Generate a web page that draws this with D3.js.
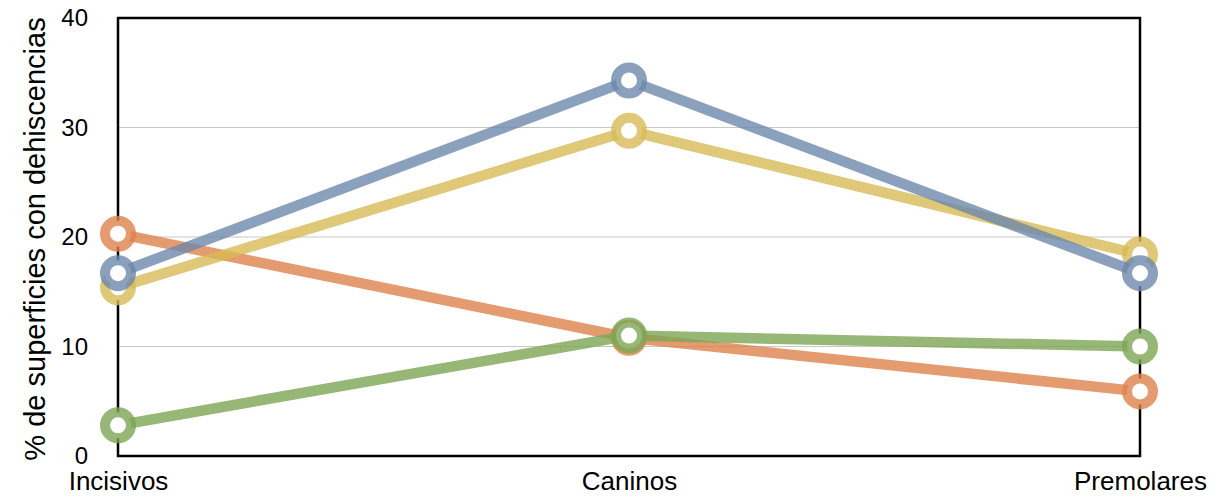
<!DOCTYPE html>
<html>
<head>
<meta charset="utf-8">
<script src="https://cdn.jsdelivr.net/npm/d3@7"></script>
<style>
  html, body { margin: 0; padding: 0; background: #fff; }
  svg { display: block; font-family: "Liberation Sans", Arial, Helvetica, sans-serif; }
</style>
</head>
<body>
<svg id="chart" width="1219" height="503"></svg>
<script>
// Tooth groups along the x axis
const categories = ["Incisivos", "Caninos", "Premolares"];

// Percentage of surfaces with dehiscences, one array per series
const seriesOrange = [20.3, 10.8, 5.9];
const seriesYellow = [15.4, 29.7, 18.4];
const seriesBlue   = [16.7, 34.3, 16.7];
const seriesGreen  = [2.8, 11.0, 10.0];

// Y axis ticks
const yTicks = [0, 10, 20, 30, 40];
const gridTicks = [10, 20, 30];

const series = [
  { values: seriesOrange, color: "#df824c" },
  { values: seriesYellow, color: "#d7ba56" },
  { values: seriesBlue,   color: "#6d88ad" },
  { values: seriesGreen,  color: "#7da555" }
];

const svg = d3.select("#chart");
const margin = { left: 118, right: 79, top: 18, bottom: 47 };
const W = 1219, H = 503;

const x = d3.scalePoint()
  .domain(categories)
  .range([margin.left, W - margin.right]);

const y = d3.scaleLinear()
  .domain([0, 40])
  .range([H - margin.bottom, margin.top]);

// light horizontal gridlines
svg.append("g")
  .selectAll("line")
  .data(gridTicks)
  .join("line")
  .attr("x1", margin.left)
  .attr("x2", W - margin.right)
  .attr("y1", d => y(d))
  .attr("y2", d => y(d))
  .attr("stroke", "#c8c8c8")
  .attr("stroke-width", 1.2);

// plot frame
svg.append("rect")
  .attr("x", margin.left)
  .attr("y", margin.top)
  .attr("width", W - margin.right - margin.left)
  .attr("height", H - margin.bottom - margin.top)
  .attr("fill", "none")
  .attr("stroke", "#000")
  .attr("stroke-width", 2.5);

// y tick labels
const yAxis = d3.axisLeft(y).tickValues(yTicks).tickSize(0).tickPadding(30);
const gy = svg.append("g")
  .attr("transform", `translate(${margin.left},0)`)
  .call(yAxis);
gy.select(".domain").remove();
gy.selectAll("text")
  .attr("font-size", 24)
  .attr("font-family", "'Liberation Sans', Arial, sans-serif")
  .attr("fill", "#000");

// x category labels
const xAxis = d3.axisBottom(x).tickSize(0).tickPadding(16);
const gx = svg.append("g")
  .attr("transform", `translate(0,${H - margin.bottom})`)
  .call(xAxis);
gx.select(".domain").remove();
gx.selectAll("text")
  .attr("font-size", 26)
  .attr("font-family", "'Liberation Sans', Arial, sans-serif")
  .attr("fill", "#000");

// y axis title
svg.append("text")
  .attr("transform", `translate(45,${(margin.top + H - margin.bottom) / 2 + 2}) rotate(-90)`)
  .attr("text-anchor", "middle")
  .attr("font-size", 29)
  .attr("fill", "#000")
  .text("% de superficies con dehiscencias");

// series lines and ring markers
const line = d3.line()
  .x((d, i) => x(categories[i]))
  .y(d => y(d));

series.forEach(s => {
  const g = svg.append("g");
  g.append("path")
    .datum(s.values)
    .attr("d", line)
    .attr("fill", "none")
    .attr("stroke", s.color)
    .attr("stroke-opacity", 0.8)
    .attr("stroke-width", 10.5)
    .attr("stroke-linejoin", "round");
  g.selectAll("circle")
    .data(s.values)
    .join("circle")
    .attr("cx", (d, i) => x(categories[i]))
    .attr("cy", d => y(d))
    .attr("r", 13)
    .attr("fill", "#fff")
    .attr("stroke", s.color)
    .attr("stroke-opacity", 0.8)
    .attr("stroke-width", 10);
});
</script>
</body>
</html>
